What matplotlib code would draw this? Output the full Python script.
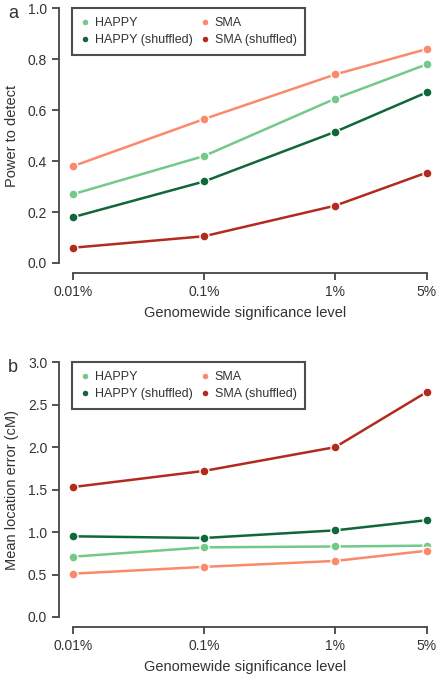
import numpy as np
import matplotlib.pyplot as plt

plt.rcParams['font.family'] = ['Liberation Sans', 'DejaVu Sans']

# データ
levels = [0.01, 0.1, 1, 5]
level_labels = ['0.01%', '0.1%', '1%', '5%']

power_happy = [0.27, 0.42, 0.645, 0.78]
power_happy_shuf = [0.18, 0.32, 0.515, 0.67]
power_sma = [0.38, 0.565, 0.74, 0.84]
power_sma_shuf = [0.06, 0.105, 0.225, 0.355]

err_happy = [0.71, 0.82, 0.83, 0.84]
err_happy_shuf = [0.95, 0.93, 1.02, 1.14]
err_sma = [0.51, 0.59, 0.66, 0.78]
err_sma_shuf = [1.53, 1.72, 2.0, 2.65]

names = ['HAPPY', 'HAPPY (shuffled)', 'SMA', 'SMA (shuffled)']
colors = ['#74c98a', '#10673a', '#fb8a6c', '#b32a1f']
txt = '#333333'
spine_c = '#444444'

fig = plt.figure(figsize=(4.38, 6.74), dpi=100)
ax_a = fig.add_axes([0.1347, 0.6098, 0.8516, 0.378])
ax_b = fig.add_axes([0.1347, 0.0846, 0.8516, 0.378])


def draw(ax, series, ylim, yticks, ylabel, panel):
    for vals, name, c in zip(series, names, colors):
        ax.plot(levels, vals, '-o', color=c, lw=1.8, ms=6.5, mec='white', mew=1.0, label=name)
    ax.set_xscale('log')
    ax.set_xlim(0.00782, 5.47)
    ax.set_ylim(*ylim)
    ax.set_xticks(levels)
    ax.set_xticklabels(level_labels)
    ax.minorticks_off()
    ax.set_yticks(yticks)
    ax.set_yticklabels(['%.1f' % t for t in yticks])
    for s in ['top', 'right']:
        ax.spines[s].set_visible(False)
    ax.spines['bottom'].set_position(('outward', 7.5))
    ax.spines['bottom'].set_bounds(0.01, 5)
    ax.spines['left'].set_bounds(ylim[0], ylim[1])
    for s in ['bottom', 'left']:
        ax.spines[s].set_color(spine_c)
        ax.spines[s].set_linewidth(1.3)
    ax.tick_params(colors=spine_c, labelcolor=txt, labelsize=10, length=5, width=1.3)
    ax.set_xlabel('Genomewide significance level', fontsize=10.5, color=txt, labelpad=5)
    ax.set_ylabel(ylabel, fontsize=10.5, color=txt, labelpad=6)
    leg = ax.legend(ncol=2, loc='upper left', bbox_to_anchor=(0.035, 1.0), borderaxespad=0,
                    fontsize=9, frameon=True, fancybox=False, handlelength=0.6,
                    columnspacing=0.7, handletextpad=0.5, labelspacing=0.4,
                    borderpad=0.7)
    for h in leg.legend_handles:
        h.set_linestyle('none')
        h.set_markersize(5)
    leg.get_frame().set_edgecolor('#222222')
    leg.get_frame().set_linewidth(1.5)
    for t in leg.get_texts():
        t.set_color(txt)
    fig.text(0.018, ax.get_position().y1 - 0.008, panel, fontsize=13, color=txt, va='center')


draw(ax_a, [power_happy, power_happy_shuf, power_sma, power_sma_shuf], (0, 1.0),
     [0, 0.2, 0.4, 0.6, 0.8, 1.0], 'Power to detect', 'a')
draw(ax_b, [err_happy, err_happy_shuf, err_sma, err_sma_shuf], (0, 3.0),
     [0, 0.5, 1.0, 1.5, 2.0, 2.5, 3.0], 'Mean location error (cM)', 'b')

plt.savefig('out.png', dpi=100)
